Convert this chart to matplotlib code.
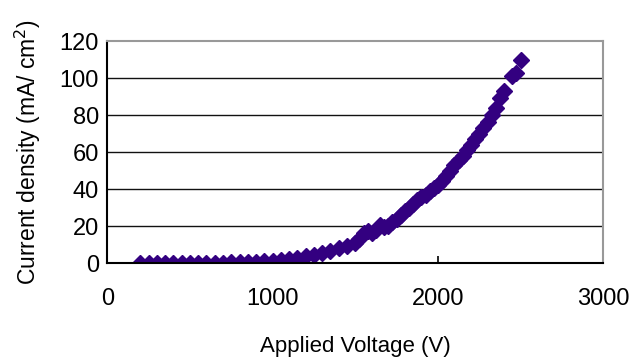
import matplotlib.pyplot as plt

# 数据
voltage = [200, 250, 300, 350, 400, 450, 500, 550, 600, 650, 700, 750, 800,
           850, 900, 950, 1000, 1050, 1100, 1150, 1200, 1250, 1300, 1350,
           1400, 1450, 1500, 1525, 1550, 1575, 1600, 1625, 1650, 1675, 1700,
           1725, 1750, 1775, 1800, 1825, 1850, 1875, 1900, 1925, 1950, 1975,
           2000, 2025, 2050, 2075, 2100, 2125, 2150, 2175, 2200, 2225, 2250,
           2275, 2300, 2325, 2350, 2375, 2400, 2450, 2475, 2500]
current = [0.3, 0.3, 0.3, 0.3, 0.3, 0.3, 0.3, 0.3, 0.3, 0.3, 0.3, 0.4, 0.4,
           0.5, 0.7, 1.0, 1.3, 1.7, 2.2, 2.8, 3.6, 4.5, 5.6, 6.8,
           8.0, 9.5, 11.0, 13.0, 16.5, 17.5, 16.5, 18.0, 20.5, 19.5, 20.0,
           22.0, 24.0, 26.0, 28.0, 30.0, 32.0, 34.0, 35.5, 37.0, 39.0, 40.5,
           42.0, 44.5, 47.0, 50.0, 53.0, 55.5, 58.0, 61.0, 64.0, 67.0, 70.0,
           73.0, 76.0, 80.0, 84.0, 89.0, 93.0, 101.0, 103.0, 110.0]
x_ticks = [0, 1000, 2000, 3000]
y_ticks = [0, 20, 40, 60, 80, 100, 120]

plt.rcParams['font.family'] = ['Liberation Sans', 'DejaVu Sans']

fig = plt.figure(figsize=(6.31, 3.57), dpi=100)
ax = fig.add_axes([0.170, 0.263, 0.786, 0.622])

ax.plot(voltage, current, linestyle='none', marker='D', markersize=8.5,
        color='#330080', markeredgecolor='#330080')

ax.set_xlim(0, 3000)
ax.set_ylim(0, 120)
ax.set_xticks(x_ticks)
ax.set_yticks(y_ticks)

# 横向网格线
for y in y_ticks[1:-1]:
    ax.axhline(y, color='#111111', linewidth=1.0, zorder=0)

ax.spines['left'].set_color('black')
ax.spines['bottom'].set_color('black')
ax.spines['top'].set_color('#999999')
ax.spines['right'].set_color('#999999')
for s in ax.spines.values():
    s.set_linewidth(1.5)

ax.tick_params(axis='x', direction='in', length=5, width=1.2, labelsize=17, pad=18)
ax.tick_params(axis='y', direction='out', length=0, labelsize=17, pad=6)

ax.set_xlabel('Applied Voltage (V)', fontsize=16, labelpad=19)
ax.set_ylabel('Current density (mA/ cm$^2$)', fontsize=16.5, labelpad=12)

plt.savefig('out.png', dpi=100)
